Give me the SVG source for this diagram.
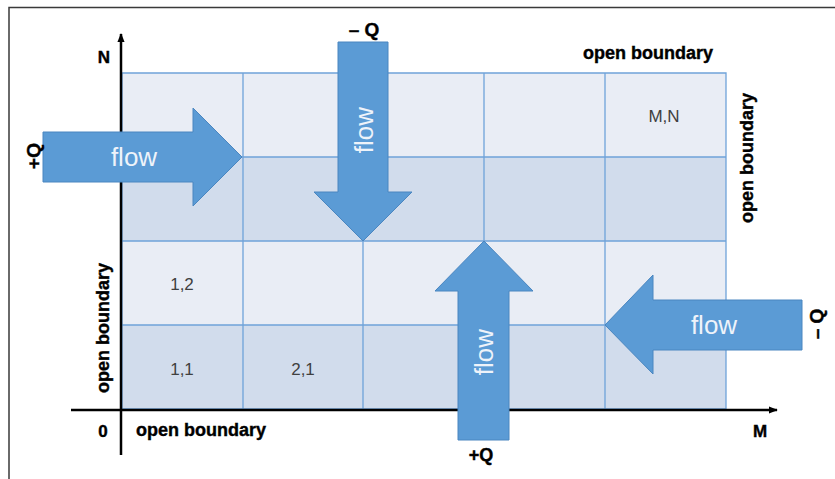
<svg xmlns="http://www.w3.org/2000/svg" width="835" height="479" viewBox="0 0 835 479">
<defs>
<style>
.frame{fill:none;stroke:#3a3a3a;stroke-width:1.5}
.light{fill:#E9EDF5}
.dark{fill:#D1DCEC}
.grid{fill:none;stroke:#6FA3D9;stroke-width:1.3}
.axis{fill:none;stroke:#000;stroke-width:2.5}
.arrow{fill:#5B9BD5;stroke:#4A86C0;stroke-width:1}
.flow{font-family:"Liberation Sans",Arial,sans-serif;font-size:26px;fill:#EEF3FA;text-anchor:middle;dominant-baseline:central}
.cell{font-family:"Liberation Sans",Arial,sans-serif;font-size:17px;fill:#404040;text-anchor:middle;dominant-baseline:central}
.bold{font-family:"Liberation Sans",Arial,sans-serif;font-weight:bold;fill:#000;stroke:#000;stroke-width:0.4}
</style>
<marker id="ah" viewBox="0 0 10 10" refX="9" refY="5" markerWidth="3.6" markerHeight="3.6" orient="auto" markerUnits="strokeWidth">
<path d="M0,1 L10,5 L0,9 z" fill="#000"/>
</marker>
</defs>
<rect width="835" height="479" fill="#fff"/>
<path class="frame" d="M9,480 V7.5 H836"/>

<g id="grid">
<rect class="light" x="122" y="73" width="604" height="84"/>
<rect class="dark" x="122" y="157" width="604" height="84"/>
<rect class="light" x="122" y="241" width="604" height="84"/>
<rect class="dark" x="122" y="325" width="604" height="84"/>
<path class="grid" d="M122,73 H726 V409 H122 Z M122,157 H726 M122,241 H726 M122,325 H726 M243,73 V409 M363,73 V409 M484,73 V409 M605,73 V409"/>
</g>

<g id="cells">
<text class="cell" x="182" y="284">1,2</text>
<text class="cell" x="182" y="369">1,1</text>
<text class="cell" x="303" y="369">2,1</text>
<text class="cell" x="664" y="116">M,N</text>
</g>

<g id="axes">
<path class="axis" d="M121,455 V34" marker-end="url(#ah)"/>
<path class="axis" d="M71,410 H777" marker-end="url(#ah)"/>
<text class="bold" x="104" y="63" font-size="17" text-anchor="middle">N</text>
<text class="bold" x="103" y="437" font-size="17" text-anchor="middle">0</text>
<text class="bold" x="760" y="437" font-size="17" text-anchor="middle">M</text>
</g>

<g id="boundaries">
<text class="bold" x="648" y="59" font-size="18" text-anchor="middle">open boundary</text>
<text class="bold" x="201" y="436" font-size="18" text-anchor="middle">open boundary</text>
<text class="bold" font-size="18" text-anchor="middle" dominant-baseline="central" transform="translate(747,158) rotate(-90)">open boundary</text>
<text class="bold" font-size="18" text-anchor="middle" dominant-baseline="central" transform="translate(103,328) rotate(-90)">open boundary</text>
</g>

<g id="arrow-left-in">
<path class="arrow" d="M43,132 H193 V108 L242,157 L193,206 V182 H43 Z"/>
<text class="flow" x="134" y="157">flow</text>
<text class="bold" font-size="19" text-anchor="middle" dominant-baseline="central" transform="translate(33,156) rotate(-90)">+Q</text>
</g>

<g id="arrow-top-out">
<path class="arrow" d="M338,42 H388 V192 H412 L363,241 L314,192 H338 Z"/>
<text class="flow" transform="translate(364,130) rotate(-90)">flow</text>
<text class="bold" x="364" y="36" font-size="19" text-anchor="middle">– Q</text>
</g>

<g id="arrow-bottom-in">
<path class="arrow" d="M458,440 V291 H435 L484,241 L533,291 H509 V440 Z"/>
<text class="flow" transform="translate(484,352) rotate(-90)">flow</text>
<text class="bold" x="481" y="461" font-size="18" text-anchor="middle">+Q</text>
</g>

<g id="arrow-right-out">
<path class="arrow" d="M802,300 H653 V275 L605,325 L653,374 V350 H802 Z"/>
<text class="flow" x="714" y="325">flow</text>
<text class="bold" font-size="19" text-anchor="middle" dominant-baseline="central" transform="translate(816,324) rotate(-90)">– Q</text>
</g>
</svg>
